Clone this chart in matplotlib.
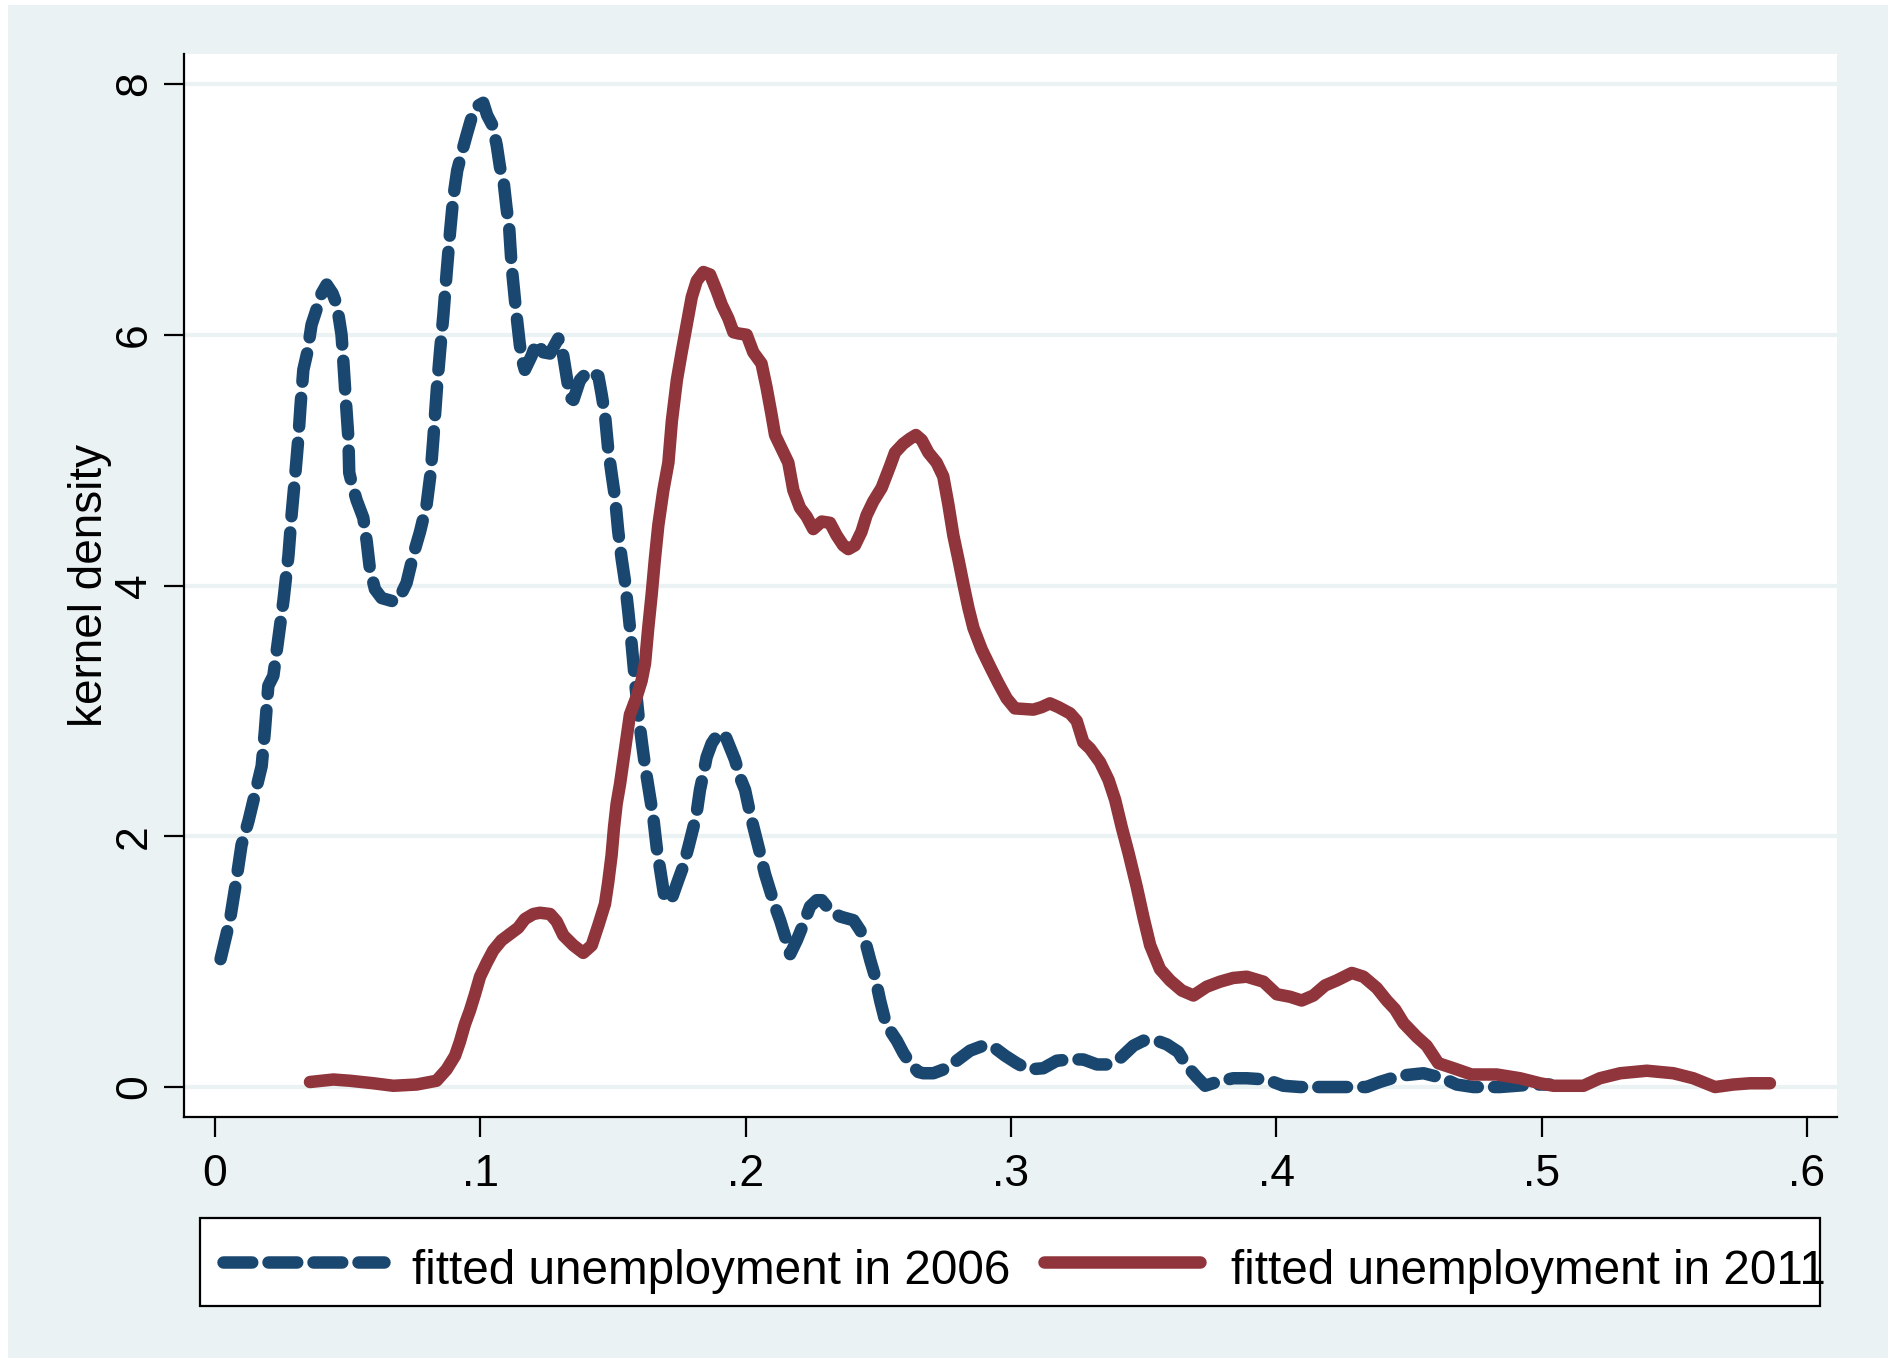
import matplotlib.pyplot as plt
from matplotlib.lines import Line2D
from matplotlib.patches import Rectangle

# kernel density of fitted unemployment, 2006 (dashed navy)
x_2006 = [0.0021, 0.0057, 0.0079, 0.0100, 0.0126, 0.0151, 0.0176, 0.0188, 0.0201, 0.0220,
          0.0239, 0.0258, 0.0277, 0.0289, 0.0302, 0.0314, 0.0323, 0.0333, 0.0348, 0.0364,
          0.0381, 0.0402, 0.0421, 0.0443, 0.0459, 0.0469, 0.0477, 0.0484, 0.0494, 0.0503,
          0.0506, 0.0515, 0.0534, 0.0559, 0.0572, 0.0584, 0.0603, 0.0628, 0.0678, 0.0697,
          0.0722, 0.0747, 0.0773, 0.0798, 0.0813, 0.0823, 0.0836, 0.0848, 0.0861, 0.0873,
          0.0886, 0.0898, 0.0913, 0.0930, 0.0948, 0.0967, 0.0986, 0.1011, 0.1026, 0.1046,
          0.1062, 0.1074, 0.1089, 0.1099, 0.1109, 0.1118, 0.1131, 0.1139, 0.1149, 0.1160,
          0.1168, 0.1193, 0.1212, 0.1237, 0.1263, 0.1294, 0.1313, 0.1325, 0.1338, 0.1351,
          0.1376, 0.1407, 0.1445, 0.1457, 0.1470, 0.1482, 0.1495, 0.1508, 0.1520, 0.1533,
          0.1545, 0.1558, 0.1571, 0.1583, 0.1596, 0.1609, 0.1621, 0.1634, 0.1652, 0.1665,
          0.1684, 0.1696, 0.1721, 0.1746, 0.1765, 0.1784, 0.1803, 0.1815, 0.1828, 0.1841,
          0.1853, 0.1872, 0.1897, 0.1922, 0.1941, 0.1960, 0.1979, 0.1998, 0.2017, 0.2036,
          0.2055, 0.2073, 0.2092, 0.2111, 0.2130, 0.2149, 0.2168, 0.2193, 0.2218, 0.2243,
          0.2268, 0.2287, 0.2318, 0.2356, 0.2407, 0.2432, 0.2450, 0.2470, 0.2488, 0.2507,
          0.2526, 0.2545, 0.2570, 0.2595, 0.2620, 0.2651, 0.2670, 0.2708, 0.2758, 0.2808,
          0.2846, 0.2896, 0.2934, 0.2978, 0.3022, 0.3066, 0.3122, 0.3173, 0.3223, 0.3273,
          0.3324, 0.3361, 0.3412, 0.3462, 0.3500, 0.3550, 0.3588, 0.3631, 0.3663, 0.3700,
          0.3732, 0.3776, 0.3838, 0.3889, 0.3964, 0.4027, 0.4090, 0.4340, 0.4390, 0.4466,
          0.4555, 0.4630, 0.4680, 0.4743, 0.4843, 0.4906, 0.4968, 0.5031]
y_2006 = [1.02, 1.34, 1.63, 1.93, 2.12, 2.34, 2.56, 2.84, 3.20, 3.28,
          3.58, 3.88, 4.24, 4.57, 4.87, 5.17, 5.45, 5.72, 5.86, 6.08,
          6.19, 6.33, 6.40, 6.33, 6.24, 6.11, 6.00, 5.78, 5.45, 5.17,
          4.90, 4.82, 4.68, 4.54, 4.35, 4.13, 3.97, 3.90, 3.87, 3.91,
          4.02, 4.24, 4.43, 4.65, 4.90, 5.17, 5.56, 5.86, 6.16, 6.49,
          6.82, 7.09, 7.31, 7.45, 7.59, 7.73, 7.82, 7.85, 7.75, 7.67,
          7.51, 7.34, 7.20, 7.01, 6.85, 6.55, 6.27, 6.11, 5.92, 5.78,
          5.72, 5.83, 5.94, 5.86, 5.85, 5.97, 5.83, 5.67, 5.50, 5.48,
          5.64, 5.71, 5.67, 5.53, 5.36, 5.09, 4.89, 4.70, 4.43, 4.21,
          4.04, 3.79, 3.52, 3.24, 2.97, 2.75, 2.56, 2.39, 2.15, 1.91,
          1.65, 1.49, 1.50, 1.65, 1.76, 1.91, 2.07, 2.18, 2.37, 2.50,
          2.63, 2.74, 2.82, 2.81, 2.71, 2.61, 2.47, 2.37, 2.18, 2.02,
          1.86, 1.70, 1.57, 1.44, 1.33, 1.20, 1.06, 1.17, 1.30, 1.44,
          1.49, 1.49, 1.41, 1.36, 1.33, 1.25, 1.17, 1.01, 0.88, 0.69,
          0.53, 0.45, 0.37, 0.27, 0.19, 0.12, 0.11, 0.11, 0.15, 0.23,
          0.29, 0.33, 0.32, 0.25, 0.19, 0.14, 0.15, 0.21, 0.22, 0.22,
          0.18, 0.18, 0.23, 0.33, 0.37, 0.37, 0.34, 0.28, 0.17, 0.08,
          0.01, 0.04, 0.07, 0.07, 0.06, 0.01, 0.00, 0.00, 0.04, 0.09,
          0.11, 0.07, 0.02, 0.00, 0.00, 0.01, 0.02, 0.02]

# kernel density of fitted unemployment, 2011 (solid maroon)
x_2011 = [0.0358, 0.0446, 0.0509, 0.0597, 0.0672, 0.0760, 0.0835, 0.0873, 0.0905, 0.0923,
          0.0942, 0.0961, 0.0980, 0.0999, 0.1024, 0.1049, 0.1080, 0.1118, 0.1143, 0.1168,
          0.1200, 0.1225, 0.1263, 0.1288, 0.1313, 0.1351, 0.1388, 0.1420, 0.1445, 0.1470,
          0.1482, 0.1495, 0.1504, 0.1514, 0.1527, 0.1545, 0.1564, 0.1589, 0.1608, 0.1621,
          0.1633, 0.1646, 0.1658, 0.1671, 0.1690, 0.1709, 0.1722, 0.1741, 0.1759, 0.1778,
          0.1797, 0.1816, 0.1841, 0.1866, 0.1891, 0.1910, 0.1935, 0.1954, 0.1973, 0.2004,
          0.2029, 0.2060, 0.2079, 0.2098, 0.2111, 0.2136, 0.2161, 0.2180, 0.2205, 0.2230,
          0.2255, 0.2287, 0.2318, 0.2343, 0.2368, 0.2387, 0.2412, 0.2437, 0.2456, 0.2481,
          0.2513, 0.2544, 0.2563, 0.2594, 0.2619, 0.2642, 0.2664, 0.2689, 0.2720, 0.2745,
          0.2764, 0.2783, 0.2802, 0.2821, 0.2840, 0.2859, 0.2890, 0.2922, 0.2953, 0.2984,
          0.3015, 0.3085, 0.3116, 0.3147, 0.3179, 0.3223, 0.3248, 0.3273, 0.3298, 0.3336,
          0.3368, 0.3393, 0.3418, 0.3443, 0.3474, 0.3500, 0.3525, 0.3562, 0.3600, 0.3644,
          0.3688, 0.3738, 0.3788, 0.3838, 0.3889, 0.3952, 0.4002, 0.4052, 0.4096, 0.4140,
          0.4184, 0.4228, 0.4285, 0.4329, 0.4379, 0.4417, 0.4448, 0.4480, 0.4530, 0.4567,
          0.4611, 0.4668, 0.4736, 0.4831, 0.4919, 0.4994, 0.5045, 0.5158, 0.5220, 0.5297,
          0.5397, 0.5497, 0.5572, 0.5654, 0.5723, 0.5786, 0.5861]
y_2011 = [0.04, 0.06, 0.05, 0.03, 0.01, 0.02, 0.05, 0.14, 0.25, 0.36,
          0.50, 0.61, 0.74, 0.88, 0.99, 1.09, 1.17, 1.23, 1.27, 1.34,
          1.38, 1.39, 1.38, 1.32, 1.21, 1.13, 1.07, 1.13, 1.29, 1.46,
          1.63, 1.85, 2.07, 2.26, 2.42, 2.69, 2.97, 3.11, 3.24, 3.38,
          3.66, 3.93, 4.21, 4.48, 4.76, 4.98, 5.31, 5.64, 5.86, 6.08,
          6.30, 6.43, 6.50, 6.48, 6.35, 6.24, 6.13, 6.02, 6.01, 6.00,
          5.86, 5.77, 5.58, 5.36, 5.20, 5.09, 4.98, 4.76, 4.62, 4.55,
          4.45, 4.51, 4.50, 4.40, 4.32, 4.29, 4.32, 4.43, 4.56, 4.67,
          4.78, 4.95, 5.06, 5.13, 5.17, 5.20, 5.16, 5.06, 4.98, 4.87,
          4.65, 4.40, 4.21, 4.01, 3.82, 3.66, 3.49, 3.35, 3.22, 3.10,
          3.02, 3.01, 3.03, 3.06, 3.03, 2.98, 2.92, 2.75, 2.70, 2.59,
          2.45, 2.29, 2.07, 1.87, 1.60, 1.35, 1.13, 0.94, 0.85, 0.77,
          0.73, 0.80, 0.84, 0.87, 0.88, 0.84, 0.74, 0.72, 0.69, 0.73,
          0.81, 0.85, 0.91, 0.88, 0.79, 0.69, 0.62, 0.51, 0.40, 0.33,
          0.19, 0.15, 0.10, 0.10, 0.07, 0.03, 0.01, 0.01, 0.07, 0.11,
          0.13, 0.11, 0.07, 0.00, 0.02, 0.03, 0.03]

x_ticks = [0, 0.1, 0.2, 0.3, 0.4, 0.5, 0.6]
x_ticklabels = ['0', '.1', '.2', '.3', '.4', '.5', '.6']
y_ticks = [0, 2, 4, 6, 8]
labels = ['fitted unemployment in 2006', 'fitted unemployment in 2011']

navy = '#1a476f'
maroon = '#90353b'
bg = '#eaf2f3'

plt.rcParams['font.family'] = ['Liberation Sans', 'DejaVu Sans']

W, H = 1888, 1358
fig = plt.figure(figsize=(W / 100, H / 100), dpi=100)
fig.patch.set_facecolor('white')
# Stata-style outer region, kept behind the axes
fig.patches.append(Rectangle((8 / W, 0), 1 - 8 / W, 1 - 5 / H, transform=fig.transFigure,
                             facecolor=bg, edgecolor='none', zorder=-5))

ax = fig.add_axes([184 / W, 1 - 1117 / H, (1837 - 184) / W, (1117 - 54) / H])
ax.set_facecolor('white')

lw = 9
dash = (0, (2.3, 1.3))
ax.plot(x_2006, y_2006, color=navy, lw=lw, linestyle=dash,
        dash_capstyle='round', solid_capstyle='round', zorder=3)
ax.plot(x_2011, y_2011, color=maroon, lw=lw, solid_capstyle='round',
        solid_joinstyle='round', zorder=4)

ax.set_xlim(-0.01168, 0.61138)
ax.set_ylim(-0.239, 8.239)
ax.set_xticks(x_ticks)
ax.set_xticklabels(x_ticklabels)
ax.set_yticks(y_ticks)
ax.set_yticklabels([str(v) for v in y_ticks], rotation=90, va='center')
ax.grid(axis='y', color=bg, lw=3, zorder=1)
ax.set_axisbelow(True)

for side in ['top', 'right']:
    ax.spines[side].set_visible(False)
for side in ['left', 'bottom']:
    ax.spines[side].set_linewidth(1.6)
    ax.spines[side].set_color('black')
ax.tick_params(axis='both', length=14.4, width=1.6, labelsize=32, colors='black')
ax.tick_params(axis='x', pad=12.5)
ax.tick_params(axis='y', pad=6.5)

fig.text(90 / W, 1 - 585 / H, 'kernel density', rotation=90, fontsize=33,
         ha='center', va='center')

# legend drawn in figure pixels to keep the Stata box layout
fig.patches.append(Rectangle((200 / W, 1 - 1306 / H), 1620 / W, 88 / H,
                             transform=fig.transFigure, facecolor='white',
                             edgecolor='black', lw=1.6, zorder=5))
ly = 1 - 1262 / H
fig.add_artist(Line2D([223 / W, 384 / W], [ly, ly], transform=fig.transFigure,
                      color=navy, lw=lw, linestyle=dash, dash_capstyle='round', zorder=6))
fig.add_artist(Line2D([1044 / W, 1200 / W], [ly, ly], transform=fig.transFigure,
                      color=maroon, lw=lw, solid_capstyle='round', zorder=6))
fig.text(412 / W, 1 - 1284 / H, labels[0], fontsize=34.3, va='baseline', ha='left', zorder=7)
fig.text(1231 / W, 1 - 1284 / H, labels[1], fontsize=34.3, va='baseline', ha='left', zorder=7)

fig.savefig('out.png', dpi=100, facecolor=fig.get_facecolor())
